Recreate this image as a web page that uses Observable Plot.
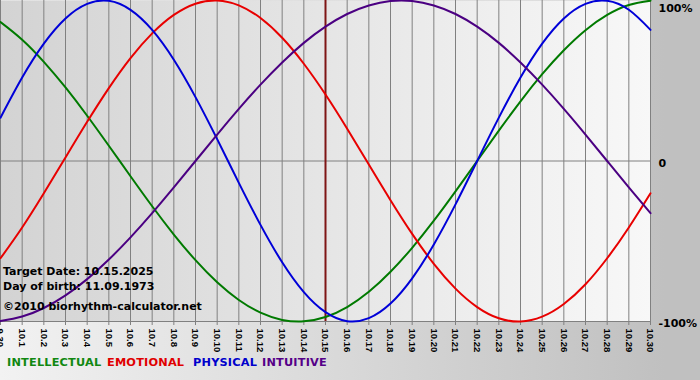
<!DOCTYPE html>
<html>
<head>
<meta charset="utf-8">
<script src="https://cdn.jsdelivr.net/npm/d3@7"></script>
<script src="https://cdn.jsdelivr.net/npm/@observablehq/plot@0.6"></script>
<style>
  html, body { margin: 0; padding: 0; }
  body {
    width: 700px; height: 380px; overflow: hidden;
    background: linear-gradient(to right, #f2f2f2 0%, #d8d8d8 50%, #c0c0c0 95%);
    font-family: "DejaVu Sans", Verdana, sans-serif;
  }
  #wrap { position: relative; width: 700px; height: 380px; }
  #wrap svg { position: absolute; left: 0; top: 0; }
  .note { position: absolute; left: 3px; font-weight: bold; font-size: 11px; line-height: 15px; color: #000; white-space: nowrap; }
  .legend-item { position: absolute; top: 355px; font-weight: bold; font-size: 11.3px; line-height: 15px; white-space: nowrap; letter-spacing: 0.2px; }
</style>
</head>
<body>
<div id="wrap"></div>
<script>
// ---- data ----
const dayLabels = ["9.30","10.1","10.2","10.3","10.4","10.5","10.6","10.7","10.8","10.9","10.10",
  "10.11","10.12","10.13","10.14","10.15","10.16","10.17","10.18","10.19","10.20",
  "10.21","10.22","10.23","10.24","10.25","10.26","10.27","10.28","10.29","10.30"];
const intellectual = [0.866,0.756,0.618,0.458,0.282,0.095,-0.095,-0.282,-0.458,-0.618,-0.756,
  -0.866,-0.945,-0.990,-0.999,-0.972,-0.910,-0.815,-0.690,-0.541,-0.372,
  -0.189,0,0.189,0.372,0.541,0.690,0.815,0.910,0.972,0.999];
const emotional = [-0.606,-0.414,-0.201,0.022,0.244,0.454,0.641,0.795,0.910,0.980,1.000,
  0.970,0.891,0.768,0.606,0.414,0.201,-0.022,-0.244,-0.454,-0.641,
  -0.795,-0.910,-0.980,-1.000,-0.970,-0.891,-0.768,-0.606,-0.414,-0.201];
const physical = [0.270,0.520,0.731,0.888,0.979,0.998,0.942,0.817,0.631,0.398,0.136,
  -0.136,-0.398,-0.631,-0.817,-0.942,-0.998,-0.979,-0.888,-0.731,-0.520,
  -0.270,0,0.270,0.520,0.731,0.888,0.979,0.998,0.942,0.817];
const intuitive = [-0.997,-0.969,-0.916,-0.837,-0.736,-0.614,-0.476,-0.325,-0.165,0,0.165,
  0.325,0.476,0.614,0.736,0.837,0.916,0.969,0.997,0.997,0.969,
  0.916,0.837,0.736,0.614,0.476,0.325,0.165,0,-0.165,-0.325];
const seriesNames = ["INTELLECTUAL","EMOTIONAL","PHYSICAL","INTUITIVE"];
const seriesValues = [intellectual, emotional, physical, intuitive];
const seriesColors = ["#007a00","#e80000","#0000d8","#4b0082"];
const legendColors = ["#118811","#e00000","#0000cc","#550088"];
const yTickValues = [1, 0, -1];
const yTickLabels = ["100%", "0", "-100%"];
const targetDay = "10.15";
const notes = ["Target Date: 10.15.2025", "Day of birth: 11.09.1973", "\u00a92010 biorhythm-calculator.net"];

// ---- layout ----
const legendLeft = [7, 107, 193, 262];
const noteTops = [264, 279, 299];

// ---- build ----
const dayIndex = dayLabels.map((_, i) => i);
const rows = seriesNames.flatMap((name, s) =>
  seriesValues[s].map((v, i) => ({day: i, value: v, series: name})));
const yTicks = yTickValues.map((v, i) => ({v, label: yTickLabels[i]}));
const tIndex = dayLabels.indexOf(targetDay);
const labelFont = {fontSize: 11, fontWeight: "bold", fontFamily: "'DejaVu Sans', Verdana, sans-serif", fill: "#000"};

const chart = Plot.plot({
  width: 700,
  height: 352,
  marginLeft: 0,
  marginRight: 50,
  marginTop: 0,
  marginBottom: 31,
  style: {background: "transparent", overflow: "visible"},
  x: {domain: [0, dayLabels.length - 1]},
  y: {domain: [-1, 1], axis: null},
  color: {domain: seriesNames, range: seriesColors},
  marks: [
    Plot.frame({fill: "url(#plotbg)", stroke: "none"}),
    Plot.ruleX(dayIndex, {stroke: "#808080", strokeWidth: 1}),
    Plot.ruleY([0], {stroke: "#808080", strokeWidth: 1}),
    Plot.ruleY([-1], {stroke: "#808080", strokeWidth: 1}),
    Plot.axisX({
      ticks: dayIndex,
      tickFormat: i => dayLabels[i],
      tickRotate: 90,
      tickSize: 4,
      tickPadding: 3,
      stroke: "#808080",
      fill: "#000",
      fontSize: 9.5,
      fontWeight: "bold",
      fontFamily: "'Liberation Sans', Arial, sans-serif",
      label: null
    }),
    Plot.ruleX([tIndex], {stroke: "#7e1515", strokeWidth: 2}),
    Plot.line(rows, {x: "day", y: "value", z: "series", stroke: "series", strokeWidth: 2, curve: "natural"}),
    Plot.text(yTicks.filter(d => d.v === 1), {x: () => dayLabels.length - 1, y: "v", text: "label", textAnchor: "start", dx: 8, dy: 8, ...labelFont}),
    Plot.text(yTicks.filter(d => d.v !== 1), {x: () => dayLabels.length - 1, y: "v", text: "label", textAnchor: "start", dx: 8, dy: 2, ...labelFont})
  ]
});

// gradient for the plot area
const svg = d3.select(chart);
const defs = svg.insert("defs", ":first-child");
const g = defs.append("linearGradient").attr("id", "plotbg").attr("x1", 0).attr("x2", 1).attr("y1", 0).attr("y2", 0);
g.append("stop").attr("offset", "0%").attr("stop-color", "#d3d3d3");
g.append("stop").attr("offset", "100%").attr("stop-color", "#f8f8f8");

const wrap = document.getElementById("wrap");
wrap.appendChild(chart);

notes.forEach((t, i) => {
  const d = document.createElement("div");
  d.className = "note";
  d.style.top = noteTops[i] + "px";
  d.textContent = t;
  wrap.appendChild(d);
});

seriesNames.forEach((n, i) => {
  const s = document.createElement("div");
  s.className = "legend-item";
  s.textContent = n;
  s.style.color = legendColors[i];
  s.style.left = legendLeft[i] + "px";
  wrap.appendChild(s);
});
</script>
</body>
</html>
